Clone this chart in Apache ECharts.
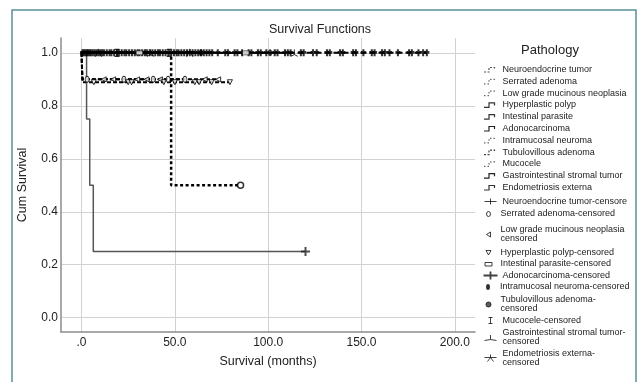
<!DOCTYPE html>
<html><head><meta charset="utf-8">
<script src="https://cdn.jsdelivr.net/npm/echarts@6/dist/echarts.min.js"></script>
<style>html,body{margin:0;padding:0;background:#fff}#c{width:640px;height:382px}</style>
</head><body><div id="c"></div>
<script>
// ---- data ----
const groups = ['Neuroendocrine tumor','Serrated adenoma','Low grade mucinous neoplasia','Hyperplastic polyp','Intestinal parasite','Adonocarcinoma','Intramucosal neuroma','Tubulovillous adenoma','Mucocele','Gastrointestinal stromal tumor','Endometriosis externa'];
const censorLabels = ['Neuroendocrine tumor-censore','Serrated adenoma-censored','Low grade mucinous neoplasia\ncensored','Hyperplastic polyp-censored','Intestinal parasite-censored','Adonocarcinoma-censored','Intramucosal neuroma-censored','Tubulovillous adenoma-\ncensored','Mucocele-censored','Gastrointestinal stromal tumor-\ncensored','Endometriosis externa-\ncensored'];

// step curves: event times / cumulative survival / censored times
const neT = [0, 185], neS = [1, 1];
const neC = [0.5,1.2,2,2.8,3.5,4.3,5,6,7,8,9,10,11,12,13.5,15,16,17.5,19,20,21.5,23,24,25.5,27,28.5,30,31,32.5,34,35,36.5,38,39.5,41,42,43.5,45,46.5,48,49.5,51,52,53.5,55,56.5,58,59.5,61,62.5,64,65.5,67,68.5,70,73,77,78.5,82,83.5,86,89.5,91,94.5,96,99,103.5,105,109,110.5,112,117.5,119,124,126,131.5,133,138.5,140,145.5,147,151,155.5,157,161,162.5,165,169.5,175.5,177,180.5,183,185];
const saT = [0, 0.4, 55.4], saS = [1, 0.9, 0.9];
const saC = [3, 22.7, 38.4, 46.4, 55.4];
const lgT = [0, 0.5, 73.2], lgS = [1, 0.9, 0.9];
const lgC = [11.9, 16.9, 29.8, 34.8, 42, 66, 73.2];
const hpT = [0, 0.5, 79.5], hpS = [1, 0.889, 0.889];
const hpC = [6.6, 25, 26.8, 44.1, 50, 60.7, 63, 69.7, 79.5];
const ipT = [0, 88], ipS = [1, 1];
const ipC = [31, 88];
const adT = [0, 2.7, 4.4, 6.3, 120], adS = [1, 0.75, 0.5, 0.25, 0.25];
const adC = [120];
const imT = [0, 101], imS = [1, 1];
const imC = [64, 101];
const tvT = [0, 48, 85.2], tvS = [1, 0.5, 0.5];
const tvC = [85.2];
const mcT = [0, 47], mcS = [1, 1];
const mcC = [19, 47];
const gsT = [0, 114], gsS = [1, 1];
const gsC = [37, 114];
const enT = [0, 58], enS = [1, 1];
const enC = [9, 58];

const xTicks = ['.0', '50.0', '100.0', '150.0', '200.0'];

// ---- build ----
const curves = [[neT,neS,neC],[saT,saS,saC],[lgT,lgS,lgC],[hpT,hpS,hpC],[ipT,ipS,ipC],[adT,adS,adC],[imT,imS,imC],[tvT,tvS,tvC],[mcT,mcS,mcC],[gsT,gsS,gsC],[enT,enS,enC]];
function levelAt(T, S, t) { let v = S[0]; for (let i = 0; i < T.length; i++) if (T[i] <= t) v = S[i]; return v; }

const FONT = 'Liberation Sans, Arial, sans-serif';
const lineStyles = [
  {color:'#000', width:2, type:[6,3]},
  {color:'#000', width:2, type:[4,2]},
  {color:'#000', width:2, type:[4,2]},
  {color:'#000', width:2, type:[4,2]},
  {color:'#000', width:1.5, type:'solid'},
  {color:'#555', width:1.5, type:'solid'},
  {color:'#000', width:1.5, type:[2,2]},
  {color:'#000', width:2.5, type:[3,2.5]},
  {color:'#000', width:1.5, type:[2,2]},
  {color:'#000', width:1.5, type:'solid'},
  {color:'#000', width:1.5, type:'solid'}
];
const W = '#fff', K = '#000';
const symStyles = [
  {symbol:'path://M0,3 L6,3 M3,0 L3,7', size:[5,7], item:{color:'none', borderColor:K, borderWidth:2.4}},
  {symbol:'circle', size:[4,6], item:{color:W, borderColor:K, borderWidth:1}},
  {symbol:'triangle', size:5, rotate:90, item:{color:W, borderColor:K, borderWidth:1}},
  {symbol:'triangle', size:5, rotate:180, item:{color:W, borderColor:K, borderWidth:1}},
  {symbol:'rect', size:[7,4], item:{color:W, borderColor:K, borderWidth:1}},
  {symbol:'path://M0,4 L8,4 M4,0 L4,8', size:9, item:{color:'none', borderColor:'#222', borderWidth:2}},
  {symbol:'circle', size:[4,7], item:{color:K, borderColor:K, borderWidth:0}},
  {symbol:'circle', size:6, item:{color:W, borderColor:K, borderWidth:1.5}},
  {symbol:'path://M0,0 L6,0 M3,0 L3,8 M0,8 L6,8', size:[5,7], item:{color:'none', borderColor:K, borderWidth:1}},
  {symbol:'path://M4,0 L4,6 M0,8 L4,6 L8,8', size:7, item:{color:'none', borderColor:K, borderWidth:1}},
  {symbol:'path://M0,3 L10,3 M5,0 L5,3 M5,3 L1,9 M5,3 L9,9', size:8, item:{color:'none', borderColor:K, borderWidth:1}}
];

const BOX = 'M0,0 M14,9 ';
const STEP = BOX + 'M0.5,7 L5.5,7 L5.5,2.5 L11,2.5 L11,5';
const legendLineDash = [[2,1.5],[1.5,2],[1.5,2],'solid','solid','solid',[1.5,2],[2,1.5],[1.5,2],'solid','solid'];
const legendLineColor = ['#555','#666','#666','#333','#333','#222','#666','#444','#666','#222','#333'];
const censorIcons = [
  {p: BOX + 'M1,4.5 L13,4.5 M7,1.5 L7,7.5', fill:'none', w:1},
  {p: BOX + 'M7,2 A2,2.5 0 1,1 7,7 A2,2.5 0 1,1 7,2 Z', fill:W, w:1},
  {p: BOX + 'M9,2 L5,4.5 L9,7 Z', fill:W, w:1},
  {p: BOX + 'M4.5,2.5 L9.5,2.5 L7,7 Z', fill:W, w:1},
  {p: BOX + 'M3.5,3 L10.5,3 L10.5,6.5 L3.5,6.5 Z', fill:W, w:1},
  {p: BOX + 'M0,4.5 L14,4.5 M7,0.5 L7,8.5', fill:'none', w:1.8},
  {p: BOX + 'M7,1.5 A2,3 0 1,1 7,7.5 A2,3 0 1,1 7,1.5 Z', fill:K, w:0},
  {p: BOX + 'M7,2 A2.5,2.5 0 1,1 7,7 A2.5,2.5 0 1,1 7,2 Z', fill:'#333', w:1},
  {p: BOX + 'M5,1.5 L9,1.5 M7,1.5 L7,7.5 M5,7.5 L9,7.5', fill:'none', w:1},
  {p: BOX + 'M7,2 L7,6.5 M1,7.5 L7,6.5 L13,7.5', fill:'none', w:1},
  {p: BOX + 'M1,4 L13,4 M7,1 L7,4 M7,4 L4,8 M7,4 L10,8', fill:'none', w:1}
];
// top of each legend row (layout)
const lineRowTop = [62.5, 74.3, 86.1, 97.9, 109.7, 121.5, 133.3, 145.1, 156.9, 168.7, 180.5];
const censRowTop = [194.5, 209, 225.5, 247.5, 259, 268.5, 282.5, 295.5, 313.5, 328.5, 349];

const series = [];
curves.forEach((c, i) => {
  series.push({
    type:'line', name: groups[i], step:'end', symbol:'none', silent:true, z:2,
    data: c[0].map((t, j) => [t, c[1][j]]),
    lineStyle: lineStyles[i], itemStyle:{color: lineStyles[i].color}
  });
});
curves.forEach((c, i) => {
  const s = symStyles[i];
  series.push({
    type:'scatter', name: censorLabels[i], silent:true, z:3,
    symbol: s.symbol, symbolSize: s.size, symbolRotate: s.rotate || 0,
    data: c[2].map(t => [t, levelAt(c[0], c[1], t)]),
    itemStyle: s.item
  });
});

const legendText = {fontSize:9, lineHeight:9, color:'#222', fontFamily: FONT};
const legends = [];
groups.forEach((g, i) => legends.push({
  orient:'vertical', left:481, top: lineRowTop[i], padding:0, itemWidth:14, itemHeight:9, selectedMode:false,
  textStyle: legendText,
  data:[{name:g, icon:'path://' + STEP, itemStyle:{color:'none', borderColor:legendLineColor[i], borderWidth:1.2, borderType:legendLineDash[i]}}]
}));
censorLabels.forEach((g, i) => legends.push({
  orient:'vertical', left:481, top: censRowTop[i], padding:0, itemWidth:14, itemHeight:9, selectedMode:false,
  textStyle: legendText,
  data:[{name:g, icon:'path://' + censorIcons[i].p, itemStyle:{color:censorIcons[i].fill, borderColor:'#111', borderWidth:censorIcons[i].w}}]
}));

const option = {
  backgroundColor:'#fff',
  animation:false,
  title:{text:'Survival Functions', left:'center', top:18, textStyle:{fontSize:12.5, fontWeight:'normal', color:'#222', fontFamily:FONT}},
  grid:{left:61, top:38, right:165, bottom:50},
  xAxis:{
    type:'value', min:-11, max:210.8,
    name:'Survival (months)', nameLocation:'middle', nameGap:23,
    nameTextStyle:{fontSize:12.5, color:'#222', fontFamily:FONT},
    axisLine:{show:true, onZero:false, lineStyle:{color:'#8c8c8c', width:1.5}},
    axisTick:{show:false},
    axisLabel:{color:'#222', fontSize:12, margin:5, fontFamily:FONT, showMinLabel:false, showMaxLabel:false,
      formatter: v => { const k = Math.round(v / 50); return (Math.abs(v - k * 50) < 1e-6 && xTicks[k] !== undefined) ? xTicks[k] : ''; }},
    splitLine:{show:true, showMinLine:false, showMaxLine:false, lineStyle:{color:'#d2d2d2', width:1}}
  },
  yAxis:{
    type:'value', min:-0.054, max:1.056,
    name:'Cum Survival', nameLocation:'middle', nameGap:32,
    nameTextStyle:{fontSize:12.5, color:'#222', fontFamily:FONT},
    axisLine:{show:true, onZero:false, lineStyle:{color:'#8c8c8c', width:1.5}},
    axisTick:{show:false},
    axisLabel:{color:'#222', fontSize:12, margin:3, fontFamily:FONT, showMinLabel:false, showMaxLabel:false,
      formatter: v => { const k = Math.round(v * 5); return Math.abs(v * 5 - k) < 1e-6 ? (k / 5).toFixed(1) : ''; }},
    splitLine:{show:true, showMinLine:false, showMaxLine:false, lineStyle:{color:'#d2d2d2', width:1}}
  },
  legend: legends,
  graphic:[
    {type:'rect', silent:true, shape:{x:12, y:10, width:624, height:400}, style:{fill:'none', stroke:'#5a8e9b', lineWidth:1.5}},
    {type:'text', silent:true, x:550, y:50, style:{text:'Pathology', fill:'#222', font:'13px ' + FONT, textAlign:'center', textVerticalAlign:'middle'}}
  ],
  series: series
};
const chart = echarts.init(document.getElementById('c'), null, {renderer:'canvas'});
chart.setOption(option);
</script>
</body></html>
